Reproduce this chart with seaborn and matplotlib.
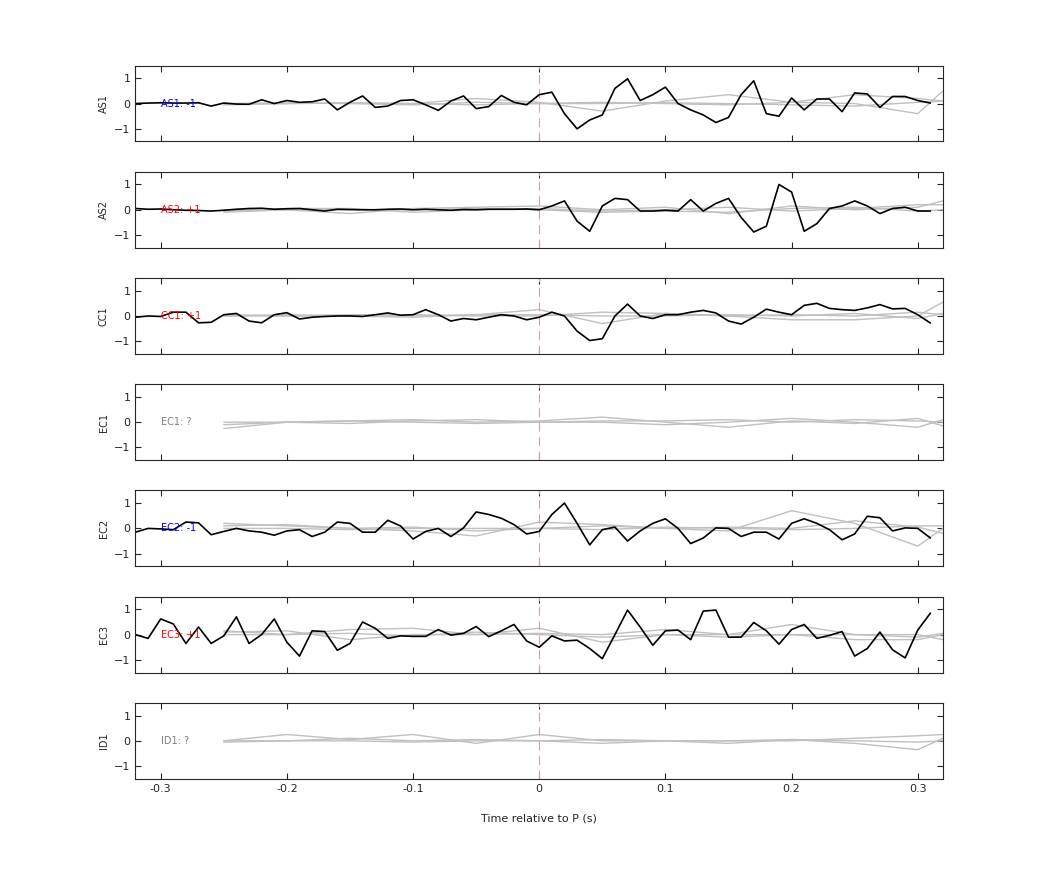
import numpy as np
import pandas as pd
import matplotlib
matplotlib.use('Agg')
import matplotlib.pyplot as plt
import seaborn as sns

sns.set_style('ticks')
plt.rcParams['font.family'] = ['DejaVu Sans']

# black traces, sampled every 0.01 s from -0.32 to 0.31
t_black = np.round(np.arange(-0.32, 0.315, 0.01), 2)
as1 = [0, 0.02, 0.03, 0.02, 0.02, 0.03, -0.1, 0.02, -0.02, -0.03, 0.15, 0.0, 0.12, 0.05, 0.07, 0.18,
       -0.25, 0.05, 0.3, -0.15, -0.1, 0.12, 0.15, -0.05, -0.27, 0.1, 0.3, -0.2, -0.12, 0.32, 0.05, -0.05,
       0.35, 0.45, -0.4, -1.0, -0.65, -0.45, 0.6, 0.98, 0.12, 0.35, 0.65, 0.0, -0.25, -0.45, -0.75, -0.55,
       0.35, 0.9, -0.4, -0.5, 0.22, -0.25, 0.18, 0.18, -0.32, 0.42, 0.38, -0.15, 0.28, 0.28, 0.12, 0.02]
as2 = [0.05, 0.02, 0.03, 0.0, -0.02, -0.03, -0.05, -0.02, 0.02, 0.05, 0.06, 0.02, 0.04, 0.05, 0.0, -0.05,
       0.02, 0.01, 0.0, 0.0, 0.02, 0.03, 0.0, 0.02, 0.0, -0.02, 0.01, 0.0, 0.02, 0.02, 0.02, 0.03,
       0.0, 0.15, 0.35, -0.45, -0.85, 0.15, 0.45, 0.4, -0.05, -0.05, -0.02, -0.05, 0.4, -0.05, 0.25, 0.45,
       -0.3, -0.88, -0.65, 1.0, 0.7, -0.85, -0.55, 0.05, 0.15, 0.35, 0.15, -0.15, 0.05, 0.1, -0.05, -0.05]
cc1 = [-0.05, 0.0, -0.02, 0.15, 0.15, -0.27, -0.25, 0.05, 0.1, -0.2, -0.27, 0.05, 0.13, -0.12, -0.05, -0.02,
       0.0, 0.0, -0.02, 0.05, 0.12, 0.03, 0.05, 0.25, 0.05, -0.2, -0.1, -0.15, -0.05, 0.05, 0.0, -0.15,
       -0.05, 0.15, 0.0, -0.6, -0.97, -0.9, 0.0, 0.47, 0.0, -0.1, 0.05, 0.05, 0.15, 0.22, 0.12, -0.2,
       -0.32, -0.05, 0.27, 0.15, 0.05, 0.42, 0.5, 0.3, 0.25, 0.22, 0.32, 0.45, 0.28, 0.3, 0.05, -0.28]
ec2 = [-0.15, 0.0, -0.02, -0.05, 0.25, 0.22, -0.25, -0.12, 0.0, -0.1, -0.15, -0.27, -0.1, -0.05, -0.32, -0.15,
       0.25, 0.2, -0.15, -0.15, 0.32, 0.1, -0.42, -0.12, 0.0, -0.32, 0.02, 0.65, 0.55, 0.4, 0.15, -0.22,
       -0.12, 0.55, 1.0, 0.2, -0.65, -0.05, 0.05, -0.5, -0.1, 0.2, 0.38, 0.0, -0.6, -0.38, 0.02, 0.0,
       -0.32, -0.15, -0.15, -0.42, 0.2, 0.38, 0.2, -0.05, -0.45, -0.22, 0.48, 0.42, -0.1, 0.02, 0.0, -0.38]
ec3 = [0.0, -0.15, 0.62, 0.42, -0.35, 0.3, -0.35, -0.05, 0.7, -0.35, 0.0, 0.62, -0.3, -0.85, 0.15, 0.12,
       -0.62, -0.35, 0.5, 0.25, -0.15, -0.05, -0.07, -0.07, 0.2, -0.02, 0.05, 0.32, -0.08, 0.15, 0.4, -0.25,
       -0.5, -0.05, -0.25, -0.22, -0.55, -0.95, 0.0, 0.97, 0.3, -0.42, 0.15, 0.18, -0.2, 0.93, 0.97, -0.1,
       -0.1, 0.48, 0.15, -0.38, 0.2, 0.4, -0.15, -0.03, 0.12, -0.85, -0.55, 0.1, -0.6, -0.92, 0.18, 0.85]

# grey (other-event) traces, coarse samples
t_grey = [-0.25, -0.2, -0.15, -0.1, -0.05, 0.0, 0.05, 0.1, 0.15, 0.2, 0.25, 0.3, 0.32]
as1_grey = [[0.0, 0.0, 0.02, 0.0, 0.2, 0.05, -0.3, 0.1, 0.35, 0.05, 0.0, -0.4, 0.5],
            [0.0, 0.02, 0.0, -0.05, 0.05, 0.0, 0.05, 0.0, -0.05, 0.05, 0.35, 0.2, 0.1],
            [-0.05, 0.0, 0.03, 0.0, -0.05, 0.0, 0.0, 0.03, 0.0, -0.05, -0.1, 0.05, 0.1]]
as2_grey = [[-0.1, 0.0, -0.15, 0.05, 0.1, 0.15, 0.0, 0.1, -0.15, 0.15, 0.0, 0.1, 0.35],
            [0.0, 0.05, 0.05, -0.1, 0.0, 0.05, -0.05, 0.0, 0.1, -0.05, 0.05, 0.2, 0.2],
            [-0.05, 0.0, 0.0, 0.0, 0.05, 0.0, -0.1, -0.05, -0.1, 0.05, 0.1, -0.05, 0.0]]
cc1_grey = [[0.0, 0.05, 0.0, 0.0, 0.05, 0.25, -0.3, 0.1, 0.0, -0.15, -0.15, 0.0, 0.55],
            [0.05, 0.0, 0.05, 0.05, 0.0, 0.0, 0.15, 0.1, 0.0, 0.05, 0.0, 0.15, 0.05],
            [0.0, 0.0, 0.0, -0.05, 0.05, 0.05, 0.0, 0.0, 0.05, 0.0, 0.1, -0.1, 0.1]]
ec1_grey = [[-0.25, 0.0, 0.05, 0.1, 0.0, 0.05, 0.2, 0.0, -0.2, 0.05, -0.05, 0.15, -0.15],
            [0.0, 0.0, -0.05, 0.05, 0.1, 0.0, 0.0, -0.1, 0.0, 0.15, 0.0, -0.2, 0.1],
            [-0.1, 0.0, 0.05, 0.0, -0.05, 0.0, 0.05, 0.05, 0.1, 0.0, 0.1, 0.05, 0.0]]
ec2_grey = [[0.2, 0.1, 0.0, -0.1, -0.3, 0.25, 0.15, 0.0, -0.1, 0.7, 0.2, -0.7, 0.0],
            [0.1, 0.15, 0.0, 0.05, -0.1, 0.0, 0.1, 0.0, 0.05, 0.0, 0.3, 0.05, -0.2],
            [0.0, 0.0, -0.05, 0.0, 0.0, 0.0, -0.05, 0.05, 0.0, -0.05, 0.0, 0.1, 0.1]]
ec3_grey = [[0.15, 0.0, 0.2, 0.25, 0.0, 0.25, -0.3, 0.0, 0.0, 0.4, 0.0, 0.0, -0.2],
            [0.1, 0.15, -0.2, 0.0, 0.0, 0.05, 0.0, 0.2, 0.0, 0.0, -0.2, -0.2, 0.0],
            [0.0, 0.0, 0.05, -0.05, 0.1, 0.0, -0.1, 0.0, -0.1, 0.0, 0.0, -0.1, 0.05]]
id1_grey = [[0.0, 0.25, 0.05, 0.25, -0.1, 0.25, 0.0, 0.0, -0.1, 0.05, -0.1, -0.35, 0.1],
            [0.0, 0.0, 0.1, 0.0, 0.05, 0.0, -0.1, 0.0, 0.0, 0.0, 0.1, 0.2, 0.25],
            [-0.05, 0.0, 0.0, -0.05, 0.0, 0.0, 0.05, 0.0, 0.0, 0.05, 0.0, -0.05, 0.0]]

stations = ['AS1', 'AS2', 'CC1', 'EC1', 'EC2', 'EC3', 'ID1']
polarities = ['-1', '+1', '+1', '?', '-1', '+1', '?']
black = [as1, as2, cc1, None, ec2, ec3, None]
greys = [as1_grey, as2_grey, cc1_grey, ec1_grey, ec2_grey, ec3_grey, id1_grey]
pol_colors = {'-1': 'blue', '+1': 'red', '?': 'grey'}

fig, axes = plt.subplots(7, 1, figsize=(10.42, 8.75), dpi=100, sharex=True)
fig.subplots_adjust(left=0.13, right=0.905, top=0.925, bottom=0.11, hspace=0.4)

for ax, sta, pol, blk, grey in zip(axes, stations, polarities, black, greys):
    for g in grey:
        sns.lineplot(x=t_grey, y=g, ax=ax, color='#c0c0c0', lw=1)
    ax.axvline(0, color='#d8a0a0', ls=(0, (8, 5)), lw=0.8)
    if blk is not None:
        sns.lineplot(x=t_black, y=blk, ax=ax, color='black', lw=1.2)
    ax.text(-0.3, 0, f'{sta}: {pol}', color=pol_colors[pol], fontsize=7, va='center')
    ax.set_ylim(-1.5, 1.5)
    ax.set_xlim(-0.32, 0.32)
    ax.set_yticks([-1, 0, 1])
    ax.set_ylabel(sta, fontsize=7)
    ax.tick_params(direction='in', top=True, right=True, labelsize=8, length=4)
    for s in ax.spines.values():
        s.set_linewidth(0.8)

axes[-1].set_xticks([-0.3, -0.2, -0.1, 0, 0.1, 0.2, 0.3])
axes[-1].set_xticklabels(['-0.3', '-0.2', '-0.1', '0', '0.1', '0.2', '0.3'])
axes[-1].set_xlabel('Time relative to P (s)', fontsize=8, labelpad=14)

fig.savefig('out.png', dpi=100)
